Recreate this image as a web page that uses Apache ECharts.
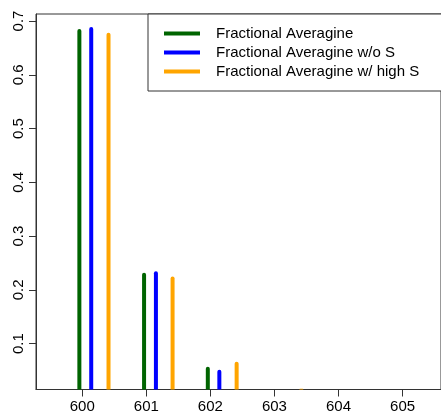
<!DOCTYPE html>
<html>
<head>
<meta charset="utf-8">
<script src="https://cdn.jsdelivr.net/npm/echarts@6/dist/echarts.min.js"></script>
<style>
  html, body { margin: 0; padding: 0; background: #fff; }
  #chart { width: 441px; height: 415px; }
</style>
</head>
<body>
<div id="chart"></div>
<script>
// series names (legend)
const seriesNames = ['Fractional Averagine', 'Fractional Averagine w/o S', 'Fractional Averagine w/ high S'];
const seriesColors = ['#006400', '#0000ff', '#ffa500'];

// peak positions (m/z) and relative abundance
const greenMass = [599.955, 600.965, 601.96, 602.96];
const greenValue = [0.685, 0.232, 0.057, 0.010];
const blueMass = [600.14, 601.15, 602.14, 603.14];
const blueValue = [0.689, 0.2345, 0.0515, 0.009];
const orangeMass = [600.41, 601.41, 602.41, 603.42];
const orangeValue = [0.678, 0.2247, 0.0664, 0.016];

const xTicks = [600, 601, 602, 603, 604, 605];
const yTicks = [0.1, 0.2, 0.3, 0.4, 0.5, 0.6, 0.7];

const chart = echarts.init(document.getElementById('chart'));

// 把 x 和 y 拼成 [x, y]
function pairs(xs, ys) {
  return xs.map((x, i) => [x, ys[i]]);
}
const allMass = [greenMass, blueMass, orangeMass];
const allValue = [greenValue, blueValue, orangeValue];

const font = 'Liberation Sans, Arial, Helvetica, sans-serif';

const option = {
  animation: false,
  backgroundColor: '#fff',
  grid: {
    left: 36,
    top: 14,
    right: -4,
    bottom: 25.5,
    show: true,
    borderColor: '#333',
    borderWidth: 1
  },
  xAxis: {
    type: 'value',
    min: 599.278,
    max: 605.6,
    interval: 1,
    splitLine: { show: false },
    axisLine: { show: true, onZero: false, lineStyle: { color: '#333' } },
    axisTick: {
      show: true,
      length: 7,
      lineStyle: { color: '#333' },
      customValues: xTicks
    },
    axisLabel: {
      fontSize: 15,
      fontFamily: font,
      color: '#000',
      margin: 10,
      customValues: xTicks,
      formatter: v => String(v)
    }
  },
  yAxis: {
    type: 'value',
    min: 0.0148,
    max: 0.713,
    splitLine: { show: false },
    axisLine: { show: true, onZero: false, lineStyle: { color: '#333' } },
    axisTick: {
      show: true,
      length: 7,
      lineStyle: { color: '#333' },
      customValues: yTicks
    },
    axisLabel: {
      fontSize: 15,
      fontFamily: font,
      color: '#000',
      rotate: 90,
      margin: 10,
      customValues: yTicks,
      formatter: v => v.toFixed(1)
    }
  },
  legend: {
    orient: 'vertical',
    left: 148,
    top: 14,
    padding: [12, 30, 12, 16],
    itemGap: 4,
    itemWidth: 36,
    itemHeight: 4,
    icon: 'rect',
    borderColor: '#333',
    borderWidth: 1,
    borderRadius: 0,
    backgroundColor: '#fff',
    z: 10,
    textStyle: {
      fontSize: 15,
      lineHeight: 15,
      fontFamily: font,
      color: '#000',
      padding: [0, 0, 0, 11]
    },
    data: seriesNames
  },
  series: seriesNames.map((name, i) => ({
    name: name,
    type: 'bar',
    barWidth: 4,
    barGap: '-100%',
    itemStyle: { color: seriesColors[i], borderRadius: [2, 2, 0, 0] },
    data: pairs(allMass[i], allValue[i])
  }))
};

chart.setOption(option);
</script>
</body>
</html>
